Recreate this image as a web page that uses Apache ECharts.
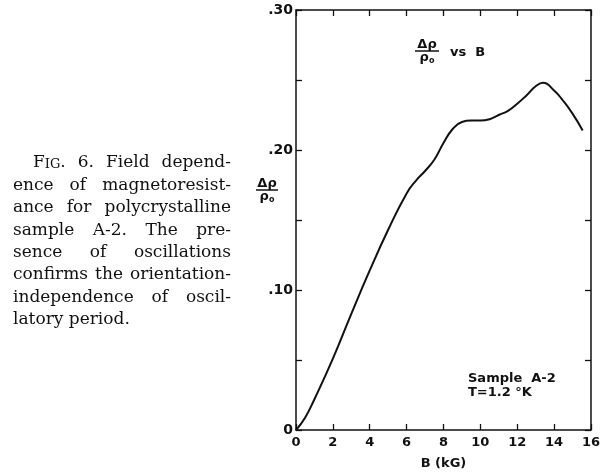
<!DOCTYPE html>
<html>
<head>
<meta charset="utf-8">
<script src="https://cdn.jsdelivr.net/npm/echarts@6/dist/echarts.min.js"></script>
<style>
  html, body { margin: 0; padding: 0; background: #fff; }
  #chart { width: 603px; height: 475px; }
</style>
</head>
<body>
<div id="chart"></div>
<script>
// field B (kG) and delta rho / rho0
var fieldB = [0, 0.5, 1, 2, 3, 4, 5, 6, 6.5, 7, 7.5, 8, 8.5, 9, 9.5, 10, 10.5, 11, 11.5, 12, 12.5, 13, 13.4, 14, 14.5, 15, 15.55];
var dRho = [0, 0.009, 0.022, 0.051, 0.083, 0.114, 0.143, 0.169, 0.178, 0.185, 0.193, 0.205, 0.215, 0.220, 0.221, 0.221, 0.222, 0.225, 0.228, 0.233, 0.239, 0.2455, 0.248, 0.2425, 0.235, 0.226, 0.214];

var yLabels = { 0: '0', 10: '.10', 20: '.20', 30: '.30' };

var captionLines = [
    "Fig. 6. Field depend-",
    "ence of magnetoresist-",
    "ance for polycrystalline",
    "sample A-2. The pre-",
    "sence of oscillations",
    "confirms the orientation-",
    "independence of oscil-",
    "latory period."
];

var INK = '#111';
var SANS = '"DejaVu Sans", sans-serif';
var SERIF = '"DejaVu Serif", serif';

// measuring text for the justified caption
var mctx = document.createElement('canvas').getContext('2d');
function textW(t, size) {
    mctx.font = size + 'px ' + SERIF;
    return mctx.measureText(t).width;
}

function captionGraphics() {
    var out = [];
    var capSize = 17;
    var scSize = 13;
    for (var i = 0; i < captionLines.length; i++) {
        var words = captionLines[i].split(' ');
        var left = i === 0 ? 33 : 13;
        var right = 231;
        var widths = words.map(function (w, k) {
            if (i === 0 && k === 0) return textW('F', capSize) + textW('IG', scSize) + textW('.', capSize);
            return textW(w, capSize);
        });
        var sum = widths.reduce(function (a, b) { return a + b; }, 0);
        var gap = textW(' ', capSize);
        if (i < captionLines.length - 1 && words.length > 1) {
            gap = (right - left - sum) / (words.length - 1);
        }
        var x = left;
        var y = 163 + 22.4 * i;
        for (var k = 0; k < words.length; k++) {
            var el;
            if (i === 0 && k === 0) {
                el = {
                    type: 'text', x: x, y: y,
                    style: {
                        text: '{a|F}{b|IG}{a|.}',
                        fill: INK, verticalAlign: 'middle',
                        rich: {
                            a: { fontSize: capSize, fontFamily: SERIF, fill: INK, verticalAlign: 'bottom' },
                            b: { fontSize: scSize, fontFamily: SERIF, fill: INK, verticalAlign: 'bottom' }
                        }
                    }
                };
            } else {
                el = {
                    type: 'text', x: x, y: y,
                    style: { text: words[k], font: capSize + 'px ' + SERIF, fill: INK, verticalAlign: 'middle' }
                };
            }
            out.push(el);
            x += widths[k] + gap;
        }
    }
    return out;
}

// Δρ / ρo fraction
function fraction(cx, cy, halfW) {
    return {
        type: 'group',
        children: [
            { type: 'text', x: cx, y: cy - 6, style: { text: 'Δρ', font: 'bold 13px ' + SANS, fill: INK, align: 'center', verticalAlign: 'middle' } },
            { type: 'line', shape: { x1: cx - halfW, y1: cy, x2: cx + halfW, y2: cy }, style: { stroke: INK, lineWidth: 1.5 } },
            {
                type: 'text', x: cx, y: cy + 7,
                style: {
                    text: '{r|ρ}{s|o}', align: 'center', verticalAlign: 'middle', fill: INK,
                    rich: {
                        r: { font: 'bold 13px ' + SANS, fill: INK, verticalAlign: 'bottom' },
                        s: { font: 'bold 8px ' + SANS, fill: INK, verticalAlign: 'bottom' }
                    }
                }
            }
        ]
    };
}

var chart = echarts.init(document.getElementById('chart'));

var axisLine = { show: true, onZero: false, lineStyle: { color: INK, width: 1.5 } };
var tickIn = { show: true, inside: true, length: 6, lineStyle: { color: INK, width: 1.3 } };

var option = {
    backgroundColor: '#fff',
    animation: false,
    grid: { left: 296, right: 7, top: 10, bottom: 43 },
    xAxis: [{
        type: 'value', min: 0, max: 16, interval: 2, position: 'bottom',
        axisLine: axisLine, axisTick: tickIn, splitLine: { show: false },
        axisLabel: { color: INK, fontFamily: SANS, fontWeight: 'bold', fontSize: 13, margin: 6,
            showMinLabel: true, showMaxLabel: true },
        name: 'B (kG)', nameLocation: 'middle', nameGap: 27,
        nameTextStyle: { color: INK, fontFamily: SANS, fontWeight: 'bold', fontSize: 13 }
    }, {
        type: 'value', min: 0, max: 16, interval: 2, position: 'top',
        axisLine: axisLine, axisTick: tickIn, splitLine: { show: false },
        axisLabel: { show: false }
    }],
    yAxis: [{
        type: 'value', min: 0, max: 0.3, interval: 0.05, position: 'left',
        axisLine: axisLine, axisTick: tickIn, splitLine: { show: false },
        axisLabel: {
            color: INK, fontFamily: SANS, fontWeight: 'bold', fontSize: 14, margin: 3,
            formatter: function (v) {
                var k = Math.round(v * 100);
                return yLabels[k] !== undefined ? yLabels[k] : '';
            }
        }
    }, {
        type: 'value', min: 0, max: 0.3, interval: 0.05, position: 'right',
        axisLine: axisLine, axisTick: tickIn, splitLine: { show: false },
        axisLabel: { show: false }
    }],
    series: [{
        type: 'line',
        data: fieldB.map(function (b, i) { return [b, dRho[i]]; }),
        smooth: true,
        symbol: 'none',
        lineStyle: { color: INK, width: 2 },
        clip: false
    }],
    graphic: captionGraphics().concat([
        fraction(427, 51, 12),
        { type: 'text', x: 450, y: 53, style: { text: 'vs  B', font: 'bold 13px ' + SANS, fill: INK, verticalAlign: 'middle' } },
        fraction(267, 190, 11),
        { type: 'text', x: 468, y: 379, style: { text: 'Sample  A-2', font: 'bold 13px ' + SANS, fill: INK, verticalAlign: 'middle' } },
        { type: 'text', x: 468, y: 393, style: { text: 'T=1.2 °K', font: 'bold 13px ' + SANS, fill: INK, verticalAlign: 'middle' } }
    ])
};

chart.setOption(option);
</script>
</body>
</html>
